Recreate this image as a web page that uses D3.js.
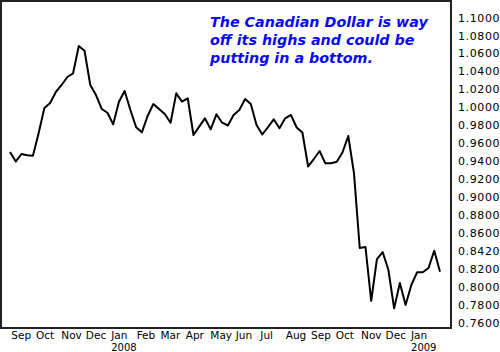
<!DOCTYPE html>
<html>
<head>
<meta charset="utf-8">
<script src="https://cdn.jsdelivr.net/npm/d3@7"></script>
<style>
  body { margin: 0; background: #fff; }
  svg { display: block; }
  .chart__axis text { font-family: "DejaVu Sans", sans-serif; font-size: 11px; fill: #000; }
  .chart__axis--month text { font-size: 10.5px; }
  .chart__axis--year text { font-size: 10px; }
  .chart__note { font-family: "DejaVu Sans", sans-serif; font-size: 14.3px; font-weight: bold; font-style: italic; fill: #0a0af0; }
</style>
</head>
<body>
<div id="chart"></div>
<script>
// weekly closes, USD per CAD
const START_DATE = '2007-08-31';
const VALUES = [
  0.9503, 0.9397, 0.9481, 0.9466, 0.9462, 0.9715, 0.9993, 1.0048, 1.0171, 1.0249,
  1.0338, 1.0379, 1.0683, 1.0630, 1.0249, 1.0137, 0.9982, 0.9940, 0.9811, 1.0063,
  1.0182, 0.9971, 0.9778, 0.9722, 0.9904, 1.0037, 0.9982, 0.9926, 0.9829, 1.0156,
  1.0063, 1.0101, 0.9692, 0.9785, 0.9878, 0.9756, 0.9923, 0.9829, 0.9798, 0.9915,
  0.9971, 1.0093, 1.0037, 0.9804, 0.9698, 0.9781, 0.9867, 0.9767, 0.9878, 0.9915,
  0.9776, 0.9720, 0.9342, 0.9425, 0.9514, 0.9377, 0.9377, 0.9395, 0.9500, 0.9681,
  0.9266, 0.8435, 0.8446, 0.7845, 0.8312, 0.8390, 0.8190, 0.7763, 0.8045, 0.7800,
  0.8023, 0.8164, 0.8164, 0.8212, 0.8405, 0.8171
];

const MONTH_TICKS = [
  '2007-09-01', '2007-10-01', '2007-11-01', '2007-12-01', '2008-01-01', '2008-02-01',
  '2008-03-01', '2008-04-01', '2008-05-01', '2008-06-01', '2008-07-01', '2008-08-01',
  '2008-09-01', '2008-10-01', '2008-11-01', '2008-12-01', '2009-01-01'
];
const MONTH_LABELS = [
  'Sep', 'Oct', 'Nov', 'Dec', 'Jan', 'Feb', 'Mar', 'Apr', 'May', 'Jun', 'Jul', 'Aug',
  'Sep', 'Oct', 'Nov', 'Dec', 'Jan'
];
const YEAR_TICKS = ['2008-01-01', '2009-01-01'];
const YEAR_LABELS = ['2008', '2009'];

const Y_TICKS = [1.10, 1.08, 1.06, 1.04, 1.02, 1.00, 0.98, 0.96, 0.94, 0.92, 0.90, 0.88, 0.86, 0.84, 0.82, 0.80, 0.78, 0.76];
const Y_LABELS = [
  '1.1000', '1.0800', '1.0600', '1.0400', '1.0200', '1.0000', '0.9800', '0.9600', '0.9400',
  '0.9200', '0.9000', '0.8800', '0.8600', '0.8420', '0.8200', '0.8000', '0.7800', '0.7600'
];

const NOTE = [
  'The Canadian Dollar is way',
  'off its highs and could be',
  'putting in a bottom.'
];

const width = 500;
const height = 352;
const plot = { left: 1, top: 1, right: 451, bottom: 328 };

const parse = d3.timeParse('%Y-%m-%d');
const start = parse(START_DATE);
const data = VALUES.map((v, i) => ({ date: d3.timeWeek.offset(start, i), value: v }));

const svg = d3.select('#chart')
  .append('svg')
    .attr('width', width)
    .attr('height', height);

svg.append('rect')
    .attr('width', width)
    .attr('height', height)
    .attr('fill', '#fff');

const x = d3.scaleTime()
  .domain(d3.extent(data, d => d.date))
  .range([10, 440]);

const y = d3.scaleLinear()
  .domain([0.76, 1.10])
  .range([323, 17.5]);

// plot frame
svg.append('rect')
    .attr('x', plot.left)
    .attr('y', plot.top)
    .attr('width', plot.right - plot.left)
    .attr('height', plot.bottom - plot.top)
    .attr('fill', 'none')
    .attr('stroke', '#222')
    .attr('stroke-width', 2);

// right axis
const yAxis = d3.axisRight(y)
  .tickValues(Y_TICKS)
  .tickSize(0)
  .tickPadding(0)
  .tickFormat((d, i) => Y_LABELS[i]);

svg.append('g')
    .attr('class', 'chart__axis')
    .attr('transform', 'translate(458,0)')
    .call(yAxis)
    .call(g => g.select('.domain').remove())
    .selectAll('text')
      .attr('letter-spacing', 0.6);

// month axis
const xAxis = d3.axisBottom(x)
  .tickValues(MONTH_TICKS.map(parse))
  .tickSize(0)
  .tickPadding(0)
  .tickFormat((d, i) => MONTH_LABELS[i]);

svg.append('g')
    .attr('class', 'chart__axis chart__axis--month')
    .attr('transform', 'translate(0,339)')
    .call(xAxis)
    .call(g => g.select('.domain').remove())
    .selectAll('text')
      .attr('dy', 0)
      .attr('text-anchor', 'start');

// year axis
const yearAxis = d3.axisBottom(x)
  .tickValues(YEAR_TICKS.map(parse))
  .tickSize(0)
  .tickPadding(0)
  .tickFormat((d, i) => YEAR_LABELS[i]);

svg.append('g')
    .attr('class', 'chart__axis chart__axis--year')
    .attr('transform', 'translate(0,350.5)')
    .call(yearAxis)
    .call(g => g.select('.domain').remove())
    .selectAll('text')
      .attr('dy', 0)
      .attr('text-anchor', 'start');

// price line
const line = d3.line()
  .x(d => x(d.date))
  .y(d => y(d.value));

svg.append('path')
    .datum(data)
    .attr('d', line)
    .attr('fill', 'none')
    .attr('stroke', '#000')
    .attr('stroke-width', 2)
    .attr('stroke-linejoin', 'round');

// annotation
svg.append('text')
    .attr('class', 'chart__note')
    .selectAll('tspan')
    .data(NOTE)
    .enter()
    .append('tspan')
      .attr('x', 210)
      .attr('y', (d, i) => 26.5 + i * 18)
      .text(d => d);
</script>
</body>
</html>
